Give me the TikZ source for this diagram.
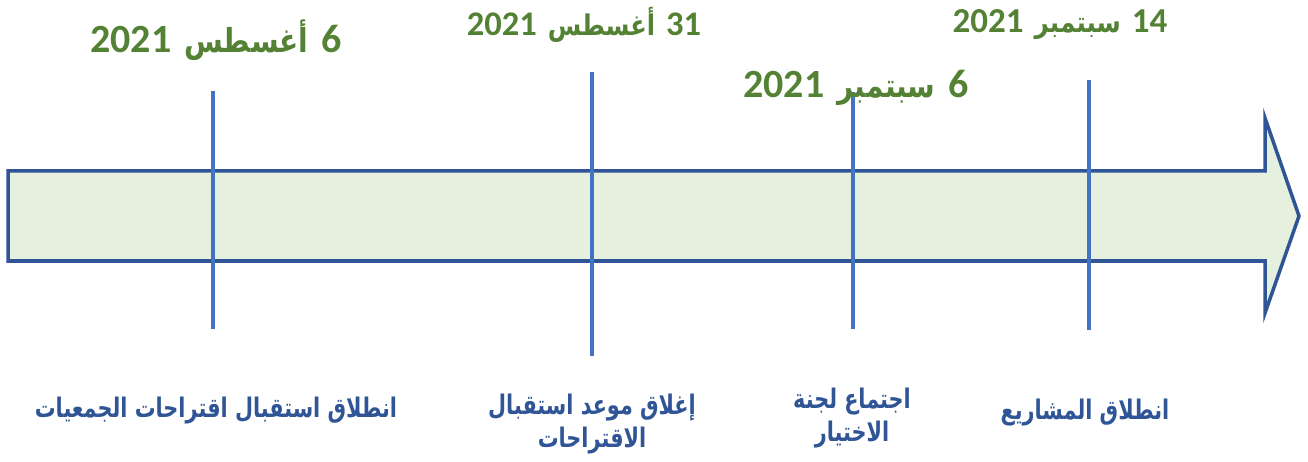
\documentclass[tikz,border=0pt]{standalone}
\usepackage{fontspec}
\TeXXeTstate=1
\newfontfamily\carlito{Carlito}
\newfontfamily\arabicfont[Script=Arabic,FakeStretch=0.85]{DejaVu Sans}
\newfontfamily\arablab[Script=Arabic,FakeStretch=0.77]{DejaVu Sans}
\definecolor{datecol}{HTML}{548235}
\definecolor{labcol}{HTML}{2F5597}
\definecolor{arrowline}{HTML}{2F5597}
\definecolor{arrowfill}{HTML}{E6F0DE}
\definecolor{tickcol}{HTML}{4472C4}
% #1 year, #2 month word, #3 day, #4 digit size, #5 word size, #6 gap
\newcommand{\datetext}[6]{{\carlito\bfseries\fontsize{#4}{#4}\selectfont #1}\hspace{#6}{\arabicfont\bfseries\fontsize{#5}{#5}\selectfont\beginR #2\endR}\hspace{#6}{\carlito\bfseries\fontsize{#4}{#4}\selectfont #3}}
\begin{document}
\begin{tikzpicture}[x=1pt,y=-1pt,
  datelbl/.style={text=datecol,inner sep=0pt,anchor=base},
  evlbl/.style={text=labcol,font=\arablab\fontsize{27}{33}\selectfont\bfseries,inner sep=0pt,align=center,anchor=center},
  tick/.style={draw=tickcol,line width=4pt}]
\useasboundingbox (0,0) rectangle (1308,462);
% arrow
\draw[draw=arrowline,fill=arrowfill,line width=3.5pt,line join=miter]
  (8,171) -- (1265,171) -- (1265,118) -- (1299,216) -- (1265,313) -- (1265,261) -- (8,261) -- cycle;
% ticks
\coordinate (t1a) at (213,91);  \coordinate (t1b) at (213,329);
\coordinate (t2a) at (592,72);  \coordinate (t2b) at (592,356);
\coordinate (t3a) at (853,92);  \coordinate (t3b) at (853,329);
\coordinate (t4a) at (1089,80); \coordinate (t4b) at (1089,330);
\draw[tick] (t1a) -- (t1b);
\draw[tick] (t2a) -- (t2b);
\draw[tick] (t3a) -- (t3b);
\draw[tick] (t4a) -- (t4b);
% dates
\node[datelbl] (d1) at (216,53) {\datetext{2021}{أغسطس}{6}{40pt}{33pt}{13pt}};
\node[datelbl] (d2) at (584,36) {\datetext{2021}{أغسطس}{31}{34.5pt}{28.5pt}{11pt}};
\node[datelbl] (d3) at (856,98) {\datetext{2021}{سبتمبر}{6}{40pt}{33pt}{13pt}};
\node[datelbl] (d4) at (1060,33) {\datetext{2021}{سبتمبر}{14}{35pt}{29pt}{11pt}};
% event labels
\node[evlbl] (e1) at (216,411) {\beginR انطلاق استقبال اقتراحات الجمعيات\endR};
\node[evlbl] (e2) at (592,424) {\beginR إغلاق موعد استقبال\endR\\\beginR الاقتراحات\endR};
\node[evlbl] (e3) at (852,418) {\beginR اجتماع لجنة\endR\\\beginR الاختيار\endR};
\node[evlbl] (e4) at (1085,413) {\beginR انطلاق المشاريع\endR};
\end{tikzpicture}
\end{document}
